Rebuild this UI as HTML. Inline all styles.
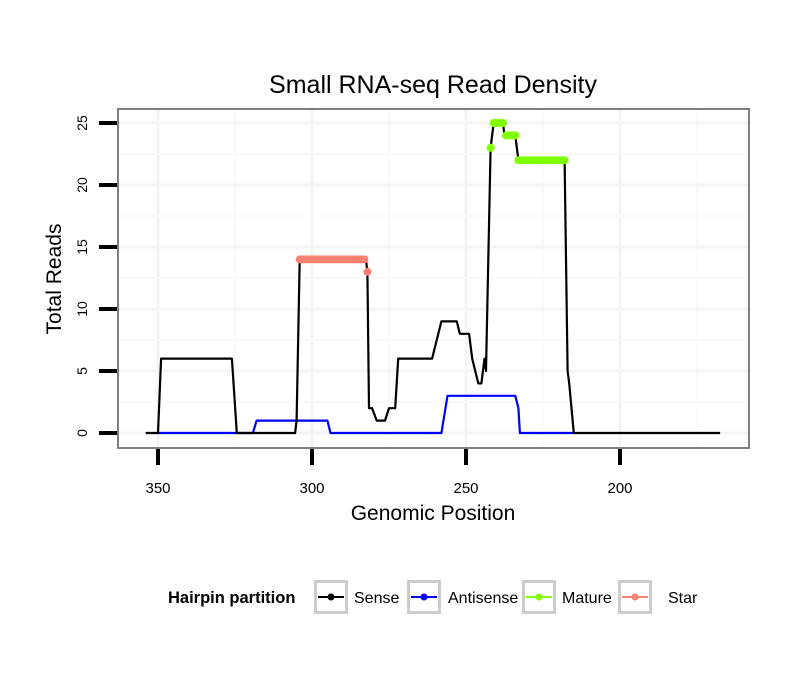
<!DOCTYPE html>
<html><head><meta charset="utf-8"><style>
body{margin:0;background:#fff;}
text{font-family:"Liberation Sans",sans-serif;}
</style></head><body>
<svg id="chart" width="810" height="690" xmlns="http://www.w3.org/2000/svg">
<rect width="810" height="690" fill="#fff"/>
<text x="433" y="93" font-size="25" text-anchor="middle">Small RNA-seq Read Density</text>
<g id="grid"></g>
<g id="series"></g>
<rect x="118" y="109" width="631" height="339" fill="none" stroke="#7f7f7f" stroke-width="2"/>
<g id="axes"></g>
<text x="433" y="520" font-size="21" text-anchor="middle">Genomic Position</text>
<text transform="translate(61,279) rotate(-90)" font-size="21" text-anchor="middle">Total Reads</text>
<g>
<text x="168" y="603" font-size="16.5" font-weight="bold">Hairpin partition</text>
<g><rect x="315.5" y="581.5" width="31" height="31" fill="#fff" stroke="#cccccc" stroke-width="3"/><line x1="318" y1="597" x2="344" y2="597" stroke="#000" stroke-width="2"/><circle cx="331" cy="597" r="3.5" fill="#000"/><text x="354" y="603" font-size="16">Sense</text></g>
<g><rect x="408.5" y="581.5" width="31" height="31" fill="#fff" stroke="#cccccc" stroke-width="3"/><line x1="411" y1="597" x2="437" y2="597" stroke="#0000ff" stroke-width="2"/><circle cx="424" cy="597" r="3.5" fill="#0000ff"/><text x="448" y="603" font-size="16">Antisense</text></g>
<g><rect x="523.5" y="581.5" width="31" height="31" fill="#fff" stroke="#cccccc" stroke-width="3"/><line x1="526" y1="597" x2="552" y2="597" stroke="#7fff00" stroke-width="2"/><circle cx="539" cy="597" r="3.5" fill="#7fff00"/><text x="562" y="603" font-size="16">Mature</text></g>
<g><rect x="619.5" y="581.5" width="31" height="31" fill="#fff" stroke="#cccccc" stroke-width="3"/><line x1="622" y1="597" x2="648" y2="597" stroke="#fa8072" stroke-width="2"/><circle cx="635" cy="597" r="3.5" fill="#fa8072"/><text x="668" y="603" font-size="16">Star</text></g>
</g>
</svg>
<script>
const xTicks=[350,300,250,200];
const yTicks=[0,5,10,15,20,25];
const sensePos=[354,350,349,326,324.4,305.5,305,304,282.5,282,281.5,280.5,279,276.3,275,273,272,261,258,253,252,249,248,246,245,244,243.5,242,241,238,237.5,234,233,218,217,216.5,215,167.5];
const senseVal=[0,0,6,6,0,0,1,14,14,13,2,2,1,1,2,2,6,6,9,9,8,8,6,4,4,6,5,23,25,25,24,24,22,22,5,4,0,0];
const antiPos=[350,319.2,318,295,294,258,256,234,233,232.5,215];
const antiVal=[0,0,1,1,0,0,3,3,2,0,0];
const starPos=[304,303,302,301,300,299,298,297,296,295,294,293,292,291,290,289,288,287,286,285,284,283,282];
const starVal=[14,14,14,14,14,14,14,14,14,14,14,14,14,14,14,14,14,14,14,14,14,14,13];
const maturePos=[242,241,240,239,238,237,236,235,234,233,232,231,230,229,228,227,226,225,224,223,222,221,220,219,218];
const matureVal=[23,25,25,25,25,24,24,24,24,22,22,22,22,22,22,22,22,22,22,22,22,22,22,22,22];

const NS="http://www.w3.org/2000/svg";
const X=v=>158+(350-v)*3.08;
const Y=v=>433-v*12.4;
function mk(tag,attrs,parent){const e=document.createElementNS(NS,tag);for(const k in attrs)e.setAttribute(k,attrs[k]);parent.appendChild(e);return e;}
const grid=document.getElementById('grid'),ser=document.getElementById('series'),axes=document.getElementById('axes');
const inX=x=>x>119&&x<748, inY=y=>y>110&&y<447;
for(let v=400;v>=150;v-=25){const px=X(v);if(!inX(px))continue;const major=v%50===0;
 const l=mk('line',{x1:px,x2:px,y1:109,y2:448,stroke:major?'#f4f4f4':'#fafafa','stroke-width':major?3:2},grid);
 }
for(let v=0;v<=30;v+=2.5){const py=Y(v);if(!inY(py))continue;const major=v%5===0;
 const l=mk('line',{x1:118,x2:749,y1:py,y2:py,stroke:major?'#f4f4f4':'#fafafa','stroke-width':major?3:2},grid);
 }
for(const v of xTicks){
 const t=mk('line',{x1:X(v),x2:X(v),y1:449,y2:465,stroke:'#000','stroke-width':4},axes);
 
 const tx=mk('text',{x:X(v),y:493,'font-size':15,'text-anchor':'middle'},axes);tx.textContent=v;
 }
for(const v of yTicks){
 const t=mk('line',{x1:99,x2:117,y1:Y(v),y2:Y(v),stroke:'#000','stroke-width':4},axes);
 
 const tx=mk('text',{transform:`translate(87,${Y(v)}) rotate(-90)`,'font-size':14,'text-anchor':'middle'},axes);tx.textContent=v;
 }
function line(pos,val,color,name){
 const d=pos.map((p,i)=>(i?'L':'M')+X(p).toFixed(1)+','+Y(val[i]).toFixed(1)).join('');
 const p=mk('path',{d:d,fill:'none',stroke:color,'stroke-width':2.2,'stroke-linejoin':'round'},ser);
 }
line(antiPos,antiVal,'#0000ff','antisense-line');
line(sensePos,senseVal,'#000','sense-line');
function pts(pos,val,color,name){
 for(let i=0;i<pos.length;i++){const c=mk('circle',{cx:X(pos[i]),cy:Y(val[i]),r:4,fill:color},ser);
  }}
pts(starPos,starVal,'#fa8072','star-point');
pts(maturePos,matureVal,'#7fff00','mature-point');
</script>
</body></html>
